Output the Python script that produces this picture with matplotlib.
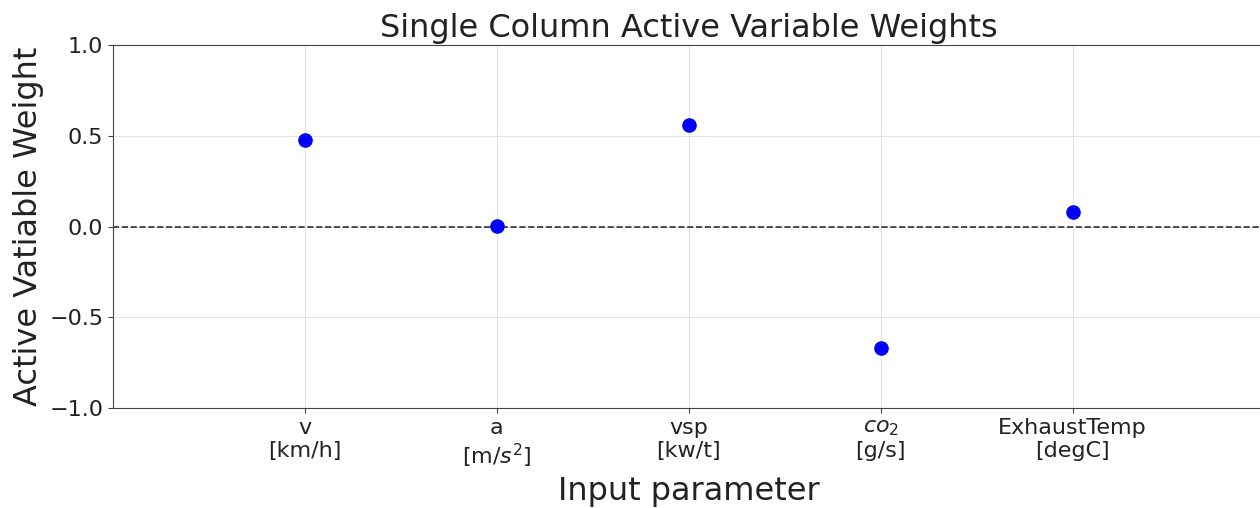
import matplotlib
matplotlib.use("Agg")
import matplotlib.pyplot as plt

labels = ["v\n[km/h]", "a\n[m/$s^2$]", "vsp\n[kw/t]", "$co_2$\n[g/s]", "ExhaustTemp\n[degC]"]
weights = [0.475, 0.005, 0.558, -0.668, 0.083]

fig = plt.figure(figsize=(12.6, 5.08), dpi=100)
ax = fig.add_axes([0.0897, 0.197, 0.914, 0.714])

x = list(range(len(labels)))
ax.scatter(x, weights, color="blue", s=90, zorder=3)
ax.axhline(0, color="black", ls="--", linewidth=1.2, alpha=0.8)
ax.grid(True, color="#dddddd", linewidth=0.8, alpha=0.8)
for spine in ax.spines.values():
    spine.set_color("#444444")

ax.set_xlim(-1, 5)
ax.set_ylim(-1, 1)
ax.set_yticks([-1.0, -0.5, 0.0, 0.5, 1.0])
ax.set_xticks(x)
ax.set_xticklabels(labels, fontsize=16)
ax.tick_params(axis="y", labelsize=16)
ax.tick_params(colors="#444444", labelcolor="#222222")
ax.set_xlabel("Input parameter", fontsize=23, color="#222222")
ax.set_ylabel("Active Vatiable Weight", fontsize=23, color="#222222")
ax.set_title("Single Column Active Variable Weights", fontsize=23, color="#222222")

fig.savefig("out.png", dpi=100)
